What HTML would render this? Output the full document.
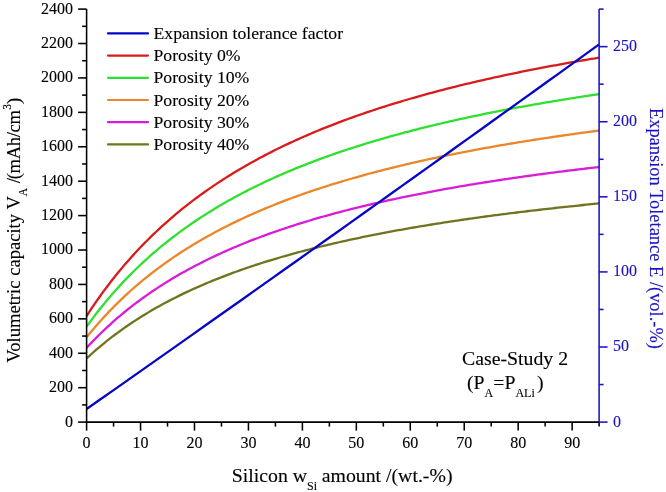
<!DOCTYPE html>
<html><head><meta charset="utf-8"><style>
html,body{margin:0;padding:0;background:#fff;}
svg{display:block;}
#w{width:666px;height:492px;overflow:hidden;will-change:transform;}
text{stroke:#000;stroke-width:0.12px;}
text.b{stroke:#1A12C8;}
</style></head><body>
<div id="w"><svg width="666" height="492" viewBox="0 0 666 492">
<rect width="666" height="492" fill="#fff"/>
<path d="M86.60,316.05 L89.18,312.08 L91.75,308.20 L94.33,304.39 L96.90,300.66 L99.48,297.01 L102.05,293.43 L104.63,289.91 L107.20,286.47 L109.78,283.09 L112.35,279.78 L114.93,276.53 L117.50,273.33 L120.08,270.20 L122.66,267.13 L125.23,264.11 L127.81,261.14 L130.38,258.23 L132.96,255.37 L135.53,252.56 L138.11,249.80 L140.68,247.08 L143.26,244.41 L145.83,241.79 L148.41,239.21 L150.98,236.67 L153.56,234.18 L156.14,231.72 L158.71,229.31 L161.29,226.93 L163.86,224.60 L166.44,222.30 L169.01,220.03 L171.59,217.80 L174.16,215.61 L176.74,213.45 L179.31,211.32 L181.89,209.22 L184.46,207.16 L187.04,205.12 L189.62,203.12 L192.19,201.15 L194.77,199.20 L197.34,197.28 L199.92,195.39 L202.49,193.53 L205.07,191.69 L207.64,189.88 L210.22,188.10 L212.79,186.33 L215.37,184.60 L217.94,182.88 L220.52,181.19 L223.09,179.53 L225.67,177.88 L228.25,176.26 L230.82,174.66 L233.40,173.08 L235.97,171.52 L238.55,169.98 L241.12,168.46 L243.70,166.96 L246.27,165.48 L248.85,164.02 L251.42,162.57 L254.00,161.14 L256.57,159.74 L259.15,158.34 L261.73,156.97 L264.30,155.61 L266.88,154.27 L269.45,152.95 L272.03,151.64 L274.60,150.34 L277.18,149.07 L279.75,147.80 L282.33,146.55 L284.90,145.32 L287.48,144.10 L290.05,142.90 L292.63,141.70 L295.21,140.52 L297.78,139.36 L300.36,138.21 L302.93,137.07 L305.51,135.94 L308.08,134.83 L310.66,133.73 L313.23,132.63 L315.81,131.56 L318.38,130.49 L320.96,129.44 L323.53,128.39 L326.11,127.36 L328.69,126.34 L331.26,125.33 L333.84,124.32 L336.41,123.33 L338.99,122.35 L341.56,121.38 L344.14,120.42 L346.71,119.47 L349.29,118.53 L351.86,117.60 L354.44,116.68 L357.01,115.77 L359.59,114.87 L362.17,113.97 L364.74,113.09 L367.32,112.21 L369.89,111.34 L372.47,110.48 L375.04,109.63 L377.62,108.78 L380.19,107.95 L382.77,107.12 L385.34,106.30 L387.92,105.49 L390.49,104.68 L393.07,103.89 L395.65,103.10 L398.22,102.32 L400.80,101.54 L403.37,100.77 L405.95,100.01 L408.52,99.26 L411.10,98.51 L413.67,97.77 L416.25,97.04 L418.82,96.31 L421.40,95.59 L423.97,94.87 L426.55,94.17 L429.13,93.46 L431.70,92.77 L434.28,92.08 L436.85,91.39 L439.43,90.72 L442.00,90.04 L444.58,89.38 L447.15,88.72 L449.73,88.06 L452.30,87.41 L454.88,86.77 L457.45,86.13 L460.03,85.49 L462.61,84.87 L465.18,84.24 L467.76,83.62 L470.33,83.01 L472.91,82.40 L475.48,81.80 L478.06,81.20 L480.63,80.61 L483.21,80.02 L485.78,79.44 L488.36,78.86 L490.93,78.28 L493.51,77.71 L496.08,77.15 L498.66,76.59 L501.24,76.03 L503.81,75.48 L506.39,74.93 L508.96,74.38 L511.54,73.84 L514.11,73.31 L516.69,72.78 L519.26,72.25 L521.84,71.73 L524.41,71.21 L526.99,70.69 L529.56,70.18 L532.14,69.67 L534.72,69.17 L537.29,68.67 L539.87,68.17 L542.44,67.68 L545.02,67.19 L547.59,66.70 L550.17,66.22 L552.74,65.74 L555.32,65.26 L557.89,64.79 L560.47,64.32 L563.04,63.86 L565.62,63.40 L568.20,62.94 L570.77,62.48 L573.35,62.03 L575.92,61.58 L578.50,61.13 L581.07,60.69 L583.65,60.25 L586.22,59.81 L588.80,59.38 L591.37,58.95 L593.95,58.52 L596.52,58.10 L599.10,57.67" fill="none" stroke="#D81C1C" stroke-width="2.3" stroke-linejoin="round"/>
<path d="M86.60,326.65 L89.18,323.08 L91.75,319.59 L94.33,316.16 L96.90,312.81 L99.48,309.52 L102.05,306.29 L104.63,303.13 L107.20,300.03 L109.78,296.99 L112.35,294.01 L114.93,291.08 L117.50,288.21 L120.08,285.39 L122.66,282.62 L125.23,279.91 L127.81,277.24 L130.38,274.62 L132.96,272.04 L135.53,269.51 L138.11,267.03 L140.68,264.58 L143.26,262.18 L145.83,259.82 L148.41,257.50 L150.98,255.22 L153.56,252.97 L156.14,250.76 L158.71,248.59 L161.29,246.45 L163.86,244.35 L166.44,242.28 L169.01,240.24 L171.59,238.23 L174.16,236.26 L176.74,234.31 L179.31,232.40 L181.89,230.51 L184.46,228.65 L187.04,226.82 L189.62,225.02 L192.19,223.24 L194.77,221.49 L197.34,219.76 L199.92,218.06 L202.49,216.39 L205.07,214.73 L207.64,213.10 L210.22,211.50 L212.79,209.91 L215.37,208.35 L217.94,206.81 L220.52,205.29 L223.09,203.78 L225.67,202.30 L228.25,200.84 L230.82,199.40 L233.40,197.98 L235.97,196.58 L238.55,195.19 L241.12,193.82 L243.70,192.47 L246.27,191.14 L248.85,189.82 L251.42,188.52 L254.00,187.24 L256.57,185.97 L259.15,184.72 L261.73,183.48 L264.30,182.26 L266.88,181.06 L269.45,179.86 L272.03,178.68 L274.60,177.52 L277.18,176.37 L279.75,175.23 L282.33,174.11 L284.90,173.00 L287.48,171.90 L290.05,170.82 L292.63,169.74 L295.21,168.68 L297.78,167.63 L300.36,166.60 L302.93,165.57 L305.51,164.56 L308.08,163.55 L310.66,162.56 L313.23,161.58 L315.81,160.61 L318.38,159.65 L320.96,158.70 L323.53,157.76 L326.11,156.83 L328.69,155.91 L331.26,155.00 L333.84,154.10 L336.41,153.21 L338.99,152.33 L341.56,151.46 L344.14,150.59 L346.71,149.74 L349.29,148.89 L351.86,148.05 L354.44,147.22 L357.01,146.40 L359.59,145.59 L362.17,144.78 L364.74,143.99 L367.32,143.20 L369.89,142.42 L372.47,141.64 L375.04,140.88 L377.62,140.12 L380.19,139.36 L382.77,138.62 L385.34,137.88 L387.92,137.15 L390.49,136.43 L393.07,135.71 L395.65,135.00 L398.22,134.29 L400.80,133.60 L403.37,132.91 L405.95,132.22 L408.52,131.54 L411.10,130.87 L413.67,130.20 L416.25,129.54 L418.82,128.89 L421.40,128.24 L423.97,127.60 L426.55,126.96 L429.13,126.33 L431.70,125.70 L434.28,125.08 L436.85,124.46 L439.43,123.85 L442.00,123.25 L444.58,122.65 L447.15,122.05 L449.73,121.46 L452.30,120.88 L454.88,120.30 L457.45,119.72 L460.03,119.15 L462.61,118.59 L465.18,118.03 L467.76,117.47 L470.33,116.92 L472.91,116.37 L475.48,115.83 L478.06,115.29 L480.63,114.76 L483.21,114.23 L485.78,113.70 L488.36,113.18 L490.93,112.66 L493.51,112.15 L496.08,111.64 L498.66,111.14 L501.24,110.64 L503.81,110.14 L506.39,109.65 L508.96,109.16 L511.54,108.67 L514.11,108.19 L516.69,107.71 L519.26,107.23 L521.84,106.76 L524.41,106.30 L526.99,105.83 L529.56,105.37 L532.14,104.91 L534.72,104.46 L537.29,104.01 L539.87,103.56 L542.44,103.12 L545.02,102.68 L547.59,102.24 L550.17,101.81 L552.74,101.38 L555.32,100.95 L557.89,100.52 L560.47,100.10 L563.04,99.68 L565.62,99.27 L568.20,98.85 L570.77,98.44 L573.35,98.04 L575.92,97.63 L578.50,97.23 L581.07,96.83 L583.65,96.44 L586.22,96.04 L588.80,95.65 L591.37,95.26 L593.95,94.88 L596.52,94.50 L599.10,94.12" fill="none" stroke="#30E030" stroke-width="2.3" stroke-linejoin="round"/>
<path d="M86.60,337.26 L89.18,334.08 L91.75,330.98 L94.33,327.93 L96.90,324.95 L99.48,322.03 L102.05,319.16 L104.63,316.35 L107.20,313.60 L109.78,310.89 L112.35,308.24 L114.93,305.64 L117.50,303.09 L120.08,300.58 L122.66,298.12 L125.23,295.71 L127.81,293.33 L130.38,291.00 L132.96,288.72 L135.53,286.47 L138.11,284.26 L140.68,282.08 L143.26,279.95 L145.83,277.85 L148.41,275.79 L150.98,273.76 L153.56,271.76 L156.14,269.80 L158.71,267.87 L161.29,265.97 L163.86,264.10 L166.44,262.26 L169.01,260.45 L171.59,258.66 L174.16,256.91 L176.74,255.18 L179.31,253.47 L181.89,251.80 L184.46,250.15 L187.04,248.52 L189.62,246.92 L192.19,245.34 L194.77,243.78 L197.34,242.25 L199.92,240.73 L202.49,239.24 L205.07,237.77 L207.64,236.32 L210.22,234.90 L212.79,233.49 L215.37,232.10 L217.94,230.73 L220.52,229.38 L223.09,228.04 L225.67,226.73 L228.25,225.43 L230.82,224.15 L233.40,222.88 L235.97,221.63 L238.55,220.40 L241.12,219.19 L243.70,217.99 L246.27,216.80 L248.85,215.63 L251.42,214.48 L254.00,213.34 L256.57,212.21 L259.15,211.10 L261.73,210.00 L264.30,208.91 L266.88,207.84 L269.45,206.78 L272.03,205.73 L274.60,204.70 L277.18,203.67 L279.75,202.66 L282.33,201.66 L284.90,200.68 L287.48,199.70 L290.05,198.74 L292.63,197.78 L295.21,196.84 L297.78,195.91 L300.36,194.99 L302.93,194.07 L305.51,193.17 L308.08,192.28 L310.66,191.40 L313.23,190.53 L315.81,189.67 L318.38,188.81 L320.96,187.97 L323.53,187.13 L326.11,186.31 L328.69,185.49 L331.26,184.68 L333.84,183.88 L336.41,183.09 L338.99,182.30 L341.56,181.53 L344.14,180.76 L346.71,180.00 L349.29,179.25 L351.86,178.50 L354.44,177.77 L357.01,177.04 L359.59,176.31 L362.17,175.60 L364.74,174.89 L367.32,174.19 L369.89,173.49 L372.47,172.80 L375.04,172.12 L377.62,171.45 L380.19,170.78 L382.77,170.12 L385.34,169.46 L387.92,168.81 L390.49,168.17 L393.07,167.53 L395.65,166.90 L398.22,166.27 L400.80,165.65 L403.37,165.04 L405.95,164.43 L408.52,163.83 L411.10,163.23 L413.67,162.64 L416.25,162.05 L418.82,161.47 L421.40,160.89 L423.97,160.32 L426.55,159.75 L429.13,159.19 L431.70,158.63 L434.28,158.08 L436.85,157.53 L439.43,156.99 L442.00,156.45 L444.58,155.92 L447.15,155.39 L449.73,154.87 L452.30,154.35 L454.88,153.83 L457.45,153.32 L460.03,152.82 L462.61,152.31 L465.18,151.81 L467.76,151.32 L470.33,150.83 L472.91,150.34 L475.48,149.86 L478.06,149.38 L480.63,148.91 L483.21,148.44 L485.78,147.97 L488.36,147.51 L490.93,147.05 L493.51,146.59 L496.08,146.14 L498.66,145.69 L501.24,145.24 L503.81,144.80 L506.39,144.36 L508.96,143.93 L511.54,143.50 L514.11,143.07 L516.69,142.64 L519.26,142.22 L521.84,141.80 L524.41,141.39 L526.99,140.97 L529.56,140.56 L532.14,140.16 L534.72,139.75 L537.29,139.35 L539.87,138.96 L542.44,138.56 L545.02,138.17 L547.59,137.78 L550.17,137.39 L552.74,137.01 L555.32,136.63 L557.89,136.25 L560.47,135.88 L563.04,135.51 L565.62,135.14 L568.20,134.77 L570.77,134.40 L573.35,134.04 L575.92,133.68 L578.50,133.33 L581.07,132.97 L583.65,132.62 L586.22,132.27 L588.80,131.92 L591.37,131.58 L593.95,131.24 L596.52,130.90 L599.10,130.56" fill="none" stroke="#EC862A" stroke-width="2.3" stroke-linejoin="round"/>
<path d="M86.60,347.86 L89.18,345.09 L91.75,342.37 L94.33,339.70 L96.90,337.09 L99.48,334.54 L102.05,332.03 L104.63,329.57 L107.20,327.16 L109.78,324.79 L112.35,322.47 L114.93,320.20 L117.50,317.96 L120.08,315.77 L122.66,313.62 L125.23,311.51 L127.81,309.43 L130.38,307.39 L132.96,305.39 L135.53,303.42 L138.11,301.49 L140.68,299.59 L143.26,297.72 L145.83,295.88 L148.41,294.08 L150.98,292.30 L153.56,290.55 L156.14,288.84 L158.71,287.15 L161.29,285.48 L163.86,283.85 L166.44,282.24 L169.01,280.65 L171.59,279.09 L174.16,277.56 L176.74,276.04 L179.31,274.55 L181.89,273.09 L184.46,271.64 L187.04,270.22 L189.62,268.81 L192.19,267.43 L194.77,266.07 L197.34,264.73 L199.92,263.40 L202.49,262.10 L205.07,260.81 L207.64,259.55 L210.22,258.30 L212.79,257.06 L215.37,255.85 L217.94,254.65 L220.52,253.47 L223.09,252.30 L225.67,251.15 L228.25,250.01 L230.82,248.89 L233.40,247.78 L235.97,246.69 L238.55,245.62 L241.12,244.55 L243.70,243.50 L246.27,242.46 L248.85,241.44 L251.42,240.43 L254.00,239.43 L256.57,238.45 L259.15,237.47 L261.73,236.51 L264.30,235.56 L266.88,234.62 L269.45,233.69 L272.03,232.78 L274.60,231.87 L277.18,230.98 L279.75,230.09 L282.33,229.22 L284.90,228.35 L287.48,227.50 L290.05,226.66 L292.63,225.82 L295.21,225.00 L297.78,224.18 L300.36,223.38 L302.93,222.58 L305.51,221.79 L308.08,221.01 L310.66,220.24 L313.23,219.47 L315.81,218.72 L318.38,217.97 L320.96,217.23 L323.53,216.50 L326.11,215.78 L328.69,215.07 L331.26,214.36 L333.84,213.66 L336.41,212.96 L338.99,212.28 L341.56,211.60 L344.14,210.93 L346.71,210.26 L349.29,209.60 L351.86,208.95 L354.44,208.31 L357.01,207.67 L359.59,207.04 L362.17,206.41 L364.74,205.79 L367.32,205.18 L369.89,204.57 L372.47,203.97 L375.04,203.37 L377.62,202.78 L380.19,202.19 L382.77,201.61 L385.34,201.04 L387.92,200.47 L390.49,199.91 L393.07,199.35 L395.65,198.80 L398.22,198.25 L400.80,197.71 L403.37,197.17 L405.95,196.64 L408.52,196.11 L411.10,195.59 L413.67,195.07 L416.25,194.56 L418.82,194.05 L421.40,193.54 L423.97,193.04 L426.55,192.55 L429.13,192.05 L431.70,191.57 L434.28,191.08 L436.85,190.61 L439.43,190.13 L442.00,189.66 L444.58,189.19 L447.15,188.73 L449.73,188.27 L452.30,187.82 L454.88,187.37 L457.45,186.92 L460.03,186.48 L462.61,186.04 L465.18,185.60 L467.76,185.17 L470.33,184.74 L472.91,184.31 L475.48,183.89 L478.06,183.47 L480.63,183.06 L483.21,182.64 L485.78,182.24 L488.36,181.83 L490.93,181.43 L493.51,181.03 L496.08,180.63 L498.66,180.24 L501.24,179.85 L503.81,179.46 L506.39,179.08 L508.96,178.70 L511.54,178.32 L514.11,177.95 L516.69,177.57 L519.26,177.20 L521.84,176.84 L524.41,176.47 L526.99,176.11 L529.56,175.76 L532.14,175.40 L534.72,175.05 L537.29,174.70 L539.87,174.35 L542.44,174.00 L545.02,173.66 L547.59,173.32 L550.17,172.98 L552.74,172.65 L555.32,172.31 L557.89,171.98 L560.47,171.66 L563.04,171.33 L565.62,171.01 L568.20,170.69 L570.77,170.37 L573.35,170.05 L575.92,169.74 L578.50,169.42 L581.07,169.11 L583.65,168.81 L586.22,168.50 L588.80,168.20 L591.37,167.89 L593.95,167.59 L596.52,167.30 L599.10,167.00" fill="none" stroke="#D81CD8" stroke-width="2.3" stroke-linejoin="round"/>
<path d="M86.60,358.47 L89.18,356.09 L91.75,353.76 L94.33,351.47 L96.90,349.24 L99.48,347.04 L102.05,344.90 L104.63,342.79 L107.20,340.72 L109.78,338.69 L112.35,336.71 L114.93,334.76 L117.50,332.84 L120.08,330.96 L122.66,329.12 L125.23,327.30 L127.81,325.53 L130.38,323.78 L132.96,322.06 L135.53,320.37 L138.11,318.72 L140.68,317.09 L143.26,315.49 L145.83,313.91 L148.41,312.37 L150.98,310.84 L153.56,309.35 L156.14,307.87 L158.71,306.43 L161.29,305.00 L163.86,303.60 L166.44,302.22 L169.01,300.86 L171.59,299.52 L174.16,298.20 L176.74,296.91 L179.31,295.63 L181.89,294.37 L184.46,293.13 L187.04,291.91 L189.62,290.71 L192.19,289.53 L194.77,288.36 L197.34,287.21 L199.92,286.08 L202.49,284.96 L205.07,283.86 L207.64,282.77 L210.22,281.70 L212.79,280.64 L215.37,279.60 L217.94,278.57 L220.52,277.56 L223.09,276.56 L225.67,275.57 L228.25,274.60 L230.82,273.64 L233.40,272.69 L235.97,271.75 L238.55,270.83 L241.12,269.92 L243.70,269.02 L246.27,268.13 L248.85,267.25 L251.42,266.38 L254.00,265.53 L256.57,264.68 L259.15,263.85 L261.73,263.02 L264.30,262.21 L266.88,261.40 L269.45,260.61 L272.03,259.82 L274.60,259.05 L277.18,258.28 L279.75,257.52 L282.33,256.77 L284.90,256.03 L287.48,255.30 L290.05,254.58 L292.63,253.86 L295.21,253.15 L297.78,252.46 L300.36,251.76 L302.93,251.08 L305.51,250.40 L308.08,249.74 L310.66,249.08 L313.23,248.42 L315.81,247.77 L318.38,247.13 L320.96,246.50 L323.53,245.87 L326.11,245.26 L328.69,244.64 L331.26,244.04 L333.84,243.43 L336.41,242.84 L338.99,242.25 L341.56,241.67 L344.14,241.09 L346.71,240.52 L349.29,239.96 L351.86,239.40 L354.44,238.85 L357.01,238.30 L359.59,237.76 L362.17,237.22 L364.74,236.69 L367.32,236.16 L369.89,235.64 L372.47,235.13 L375.04,234.62 L377.62,234.11 L380.19,233.61 L382.77,233.11 L385.34,232.62 L387.92,232.13 L390.49,231.65 L393.07,231.17 L395.65,230.70 L398.22,230.23 L400.80,229.76 L403.37,229.30 L405.95,228.85 L408.52,228.39 L411.10,227.95 L413.67,227.50 L416.25,227.06 L418.82,226.63 L421.40,226.19 L423.97,225.76 L426.55,225.34 L429.13,224.92 L431.70,224.50 L434.28,224.09 L436.85,223.68 L439.43,223.27 L442.00,222.87 L444.58,222.47 L447.15,222.07 L449.73,221.68 L452.30,221.29 L454.88,220.90 L457.45,220.52 L460.03,220.14 L462.61,219.76 L465.18,219.39 L467.76,219.01 L470.33,218.65 L472.91,218.28 L475.48,217.92 L478.06,217.56 L480.63,217.21 L483.21,216.85 L485.78,216.50 L488.36,216.15 L490.93,215.81 L493.51,215.47 L496.08,215.13 L498.66,214.79 L501.24,214.46 L503.81,214.13 L506.39,213.80 L508.96,213.47 L511.54,213.15 L514.11,212.83 L516.69,212.51 L519.26,212.19 L521.84,211.88 L524.41,211.56 L526.99,211.25 L529.56,210.95 L532.14,210.64 L534.72,210.34 L537.29,210.04 L539.87,209.74 L542.44,209.45 L545.02,209.15 L547.59,208.86 L550.17,208.57 L552.74,208.28 L555.32,208.00 L557.89,207.71 L560.47,207.43 L563.04,207.15 L565.62,206.88 L568.20,206.60 L570.77,206.33 L573.35,206.06 L575.92,205.79 L578.50,205.52 L581.07,205.25 L583.65,204.99 L586.22,204.73 L588.80,204.47 L591.37,204.21 L593.95,203.95 L596.52,203.70 L599.10,203.44" fill="none" stroke="#707420" stroke-width="2.3" stroke-linejoin="round"/>
<path d="M86.60,409.03 L99.74,399.81 L112.88,390.59 L126.02,381.35 L139.16,372.11 L152.31,362.87 L165.45,353.61 L178.59,344.35 L191.73,335.08 L204.87,325.81 L218.01,316.53 L231.15,307.24 L244.29,297.94 L257.43,288.64 L270.57,279.33 L283.72,270.02 L296.86,260.70 L310.00,251.37 L323.14,242.03 L336.28,232.69 L349.42,223.34 L362.56,213.98 L375.70,204.62 L388.84,195.25 L401.98,185.87 L415.13,176.49 L428.27,167.10 L441.41,157.70 L454.55,148.29 L467.69,138.88 L480.83,129.46 L493.97,120.04 L507.11,110.61 L520.25,101.17 L533.39,91.72 L546.54,82.27 L559.68,72.81 L572.82,63.35 L585.96,53.87 L599.10,44.39" fill="none" stroke="#0606C6" stroke-width="2.3"/>
<path d="M86.60,9.10 V422.10 H599.10" fill="none" stroke="#000" stroke-width="1.55"/>
<path d="M78.10,422.10 H86.60" stroke="#000" stroke-width="1.55"/>
<text x="73" y="426.50" font-family="Liberation Serif" font-size="16" text-anchor="end">0</text>
<path d="M82.10,404.89 H86.60" stroke="#000" stroke-width="1.55"/>
<path d="M78.10,387.68 H86.60" stroke="#000" stroke-width="1.55"/>
<text x="73" y="392.08" font-family="Liberation Serif" font-size="16" text-anchor="end">200</text>
<path d="M82.10,370.48 H86.60" stroke="#000" stroke-width="1.55"/>
<path d="M78.10,353.27 H86.60" stroke="#000" stroke-width="1.55"/>
<text x="73" y="357.67" font-family="Liberation Serif" font-size="16" text-anchor="end">400</text>
<path d="M82.10,336.06 H86.60" stroke="#000" stroke-width="1.55"/>
<path d="M78.10,318.85 H86.60" stroke="#000" stroke-width="1.55"/>
<text x="73" y="323.25" font-family="Liberation Serif" font-size="16" text-anchor="end">600</text>
<path d="M82.10,301.64 H86.60" stroke="#000" stroke-width="1.55"/>
<path d="M78.10,284.43 H86.60" stroke="#000" stroke-width="1.55"/>
<text x="73" y="288.83" font-family="Liberation Serif" font-size="16" text-anchor="end">800</text>
<path d="M82.10,267.23 H86.60" stroke="#000" stroke-width="1.55"/>
<path d="M78.10,250.02 H86.60" stroke="#000" stroke-width="1.55"/>
<text x="73" y="254.42" font-family="Liberation Serif" font-size="16" text-anchor="end">1000</text>
<path d="M82.10,232.81 H86.60" stroke="#000" stroke-width="1.55"/>
<path d="M78.10,215.60 H86.60" stroke="#000" stroke-width="1.55"/>
<text x="73" y="220.00" font-family="Liberation Serif" font-size="16" text-anchor="end">1200</text>
<path d="M82.10,198.39 H86.60" stroke="#000" stroke-width="1.55"/>
<path d="M78.10,181.18 H86.60" stroke="#000" stroke-width="1.55"/>
<text x="73" y="185.58" font-family="Liberation Serif" font-size="16" text-anchor="end">1400</text>
<path d="M82.10,163.98 H86.60" stroke="#000" stroke-width="1.55"/>
<path d="M78.10,146.77 H86.60" stroke="#000" stroke-width="1.55"/>
<text x="73" y="151.17" font-family="Liberation Serif" font-size="16" text-anchor="end">1600</text>
<path d="M82.10,129.56 H86.60" stroke="#000" stroke-width="1.55"/>
<path d="M78.10,112.35 H86.60" stroke="#000" stroke-width="1.55"/>
<text x="73" y="116.75" font-family="Liberation Serif" font-size="16" text-anchor="end">1800</text>
<path d="M82.10,95.14 H86.60" stroke="#000" stroke-width="1.55"/>
<path d="M78.10,77.93 H86.60" stroke="#000" stroke-width="1.55"/>
<text x="73" y="82.33" font-family="Liberation Serif" font-size="16" text-anchor="end">2000</text>
<path d="M82.10,60.73 H86.60" stroke="#000" stroke-width="1.55"/>
<path d="M78.10,43.52 H86.60" stroke="#000" stroke-width="1.55"/>
<text x="73" y="47.92" font-family="Liberation Serif" font-size="16" text-anchor="end">2200</text>
<path d="M82.10,26.31 H86.60" stroke="#000" stroke-width="1.55"/>
<path d="M78.10,9.10 H86.60" stroke="#000" stroke-width="1.55"/>
<text x="73" y="13.50" font-family="Liberation Serif" font-size="16" text-anchor="end">2400</text>
<path d="M86.60,422.10 V430.60" stroke="#000" stroke-width="1.55"/>
<text x="86.60" y="448" font-family="Liberation Serif" font-size="16" text-anchor="middle">0</text>
<path d="M113.57,422.10 V426.60" stroke="#000" stroke-width="1.55"/>
<path d="M140.55,422.10 V430.60" stroke="#000" stroke-width="1.55"/>
<text x="140.55" y="448" font-family="Liberation Serif" font-size="16" text-anchor="middle">10</text>
<path d="M167.52,422.10 V426.60" stroke="#000" stroke-width="1.55"/>
<path d="M194.49,422.10 V430.60" stroke="#000" stroke-width="1.55"/>
<text x="194.49" y="448" font-family="Liberation Serif" font-size="16" text-anchor="middle">20</text>
<path d="M221.47,422.10 V426.60" stroke="#000" stroke-width="1.55"/>
<path d="M248.44,422.10 V430.60" stroke="#000" stroke-width="1.55"/>
<text x="248.44" y="448" font-family="Liberation Serif" font-size="16" text-anchor="middle">30</text>
<path d="M275.42,422.10 V426.60" stroke="#000" stroke-width="1.55"/>
<path d="M302.39,422.10 V430.60" stroke="#000" stroke-width="1.55"/>
<text x="302.39" y="448" font-family="Liberation Serif" font-size="16" text-anchor="middle">40</text>
<path d="M329.36,422.10 V426.60" stroke="#000" stroke-width="1.55"/>
<path d="M356.34,422.10 V430.60" stroke="#000" stroke-width="1.55"/>
<text x="356.34" y="448" font-family="Liberation Serif" font-size="16" text-anchor="middle">50</text>
<path d="M383.31,422.10 V426.60" stroke="#000" stroke-width="1.55"/>
<path d="M410.28,422.10 V430.60" stroke="#000" stroke-width="1.55"/>
<text x="410.28" y="448" font-family="Liberation Serif" font-size="16" text-anchor="middle">60</text>
<path d="M437.26,422.10 V426.60" stroke="#000" stroke-width="1.55"/>
<path d="M464.23,422.10 V430.60" stroke="#000" stroke-width="1.55"/>
<text x="464.23" y="448" font-family="Liberation Serif" font-size="16" text-anchor="middle">70</text>
<path d="M491.21,422.10 V426.60" stroke="#000" stroke-width="1.55"/>
<path d="M518.18,422.10 V430.60" stroke="#000" stroke-width="1.55"/>
<text x="518.18" y="448" font-family="Liberation Serif" font-size="16" text-anchor="middle">80</text>
<path d="M545.15,422.10 V426.60" stroke="#000" stroke-width="1.55"/>
<path d="M572.13,422.10 V430.60" stroke="#000" stroke-width="1.55"/>
<text x="572.13" y="448" font-family="Liberation Serif" font-size="16" text-anchor="middle">90</text>
<path d="M599.10,422.10 V426.60" stroke="#000" stroke-width="1.55"/>
<path d="M599.10,9.10 V422.10" fill="none" stroke="#1A12C8" stroke-width="1.55"/>
<path d="M599.10,422.10 H607.60" stroke="#1A12C8" stroke-width="1.55"/>
<text x="613" y="426.50" font-family="Liberation Serif" font-size="16" fill="#1A12C8" class="b">0</text>
<path d="M599.10,384.55 H603.60" stroke="#1A12C8" stroke-width="1.55"/>
<path d="M599.10,347.01 H607.60" stroke="#1A12C8" stroke-width="1.55"/>
<text x="613" y="351.41" font-family="Liberation Serif" font-size="16" fill="#1A12C8" class="b">50</text>
<path d="M599.10,309.46 H603.60" stroke="#1A12C8" stroke-width="1.55"/>
<path d="M599.10,271.92 H607.60" stroke="#1A12C8" stroke-width="1.55"/>
<text x="613" y="276.32" font-family="Liberation Serif" font-size="16" fill="#1A12C8" class="b">100</text>
<path d="M599.10,234.37 H603.60" stroke="#1A12C8" stroke-width="1.55"/>
<path d="M599.10,196.83 H607.60" stroke="#1A12C8" stroke-width="1.55"/>
<text x="613" y="201.23" font-family="Liberation Serif" font-size="16" fill="#1A12C8" class="b">150</text>
<path d="M599.10,159.28 H603.60" stroke="#1A12C8" stroke-width="1.55"/>
<path d="M599.10,121.74 H607.60" stroke="#1A12C8" stroke-width="1.55"/>
<text x="613" y="126.14" font-family="Liberation Serif" font-size="16" fill="#1A12C8" class="b">200</text>
<path d="M599.10,84.19 H603.60" stroke="#1A12C8" stroke-width="1.55"/>
<path d="M599.10,46.65 H607.60" stroke="#1A12C8" stroke-width="1.55"/>
<text x="613" y="51.05" font-family="Liberation Serif" font-size="16" fill="#1A12C8" class="b">250</text>
<path d="M599.10,9.10 H603.60" stroke="#1A12C8" stroke-width="1.55"/>
<path d="M108,33.40 H148" stroke="#0606C6" stroke-width="2.2" stroke-linecap="round"/>
<text x="153.5" y="38.90" font-family="Liberation Serif" font-size="17.7">Expansion tolerance factor</text>
<path d="M108,55.60 H148" stroke="#D81C1C" stroke-width="2.2" stroke-linecap="round"/>
<text x="153.5" y="61.10" font-family="Liberation Serif" font-size="17.7">Porosity 0%</text>
<path d="M108,77.80 H148" stroke="#30E030" stroke-width="2.2" stroke-linecap="round"/>
<text x="153.5" y="83.30" font-family="Liberation Serif" font-size="17.7">Porosity 10%</text>
<path d="M108,100.00 H148" stroke="#EC862A" stroke-width="2.2" stroke-linecap="round"/>
<text x="153.5" y="105.50" font-family="Liberation Serif" font-size="17.7">Porosity 20%</text>
<path d="M108,122.20 H148" stroke="#D81CD8" stroke-width="2.2" stroke-linecap="round"/>
<text x="153.5" y="127.70" font-family="Liberation Serif" font-size="17.7">Porosity 30%</text>
<path d="M108,144.40 H148" stroke="#707420" stroke-width="2.2" stroke-linecap="round"/>
<text x="153.5" y="149.90" font-family="Liberation Serif" font-size="17.7">Porosity 40%</text>
<text x="231.8" y="481.8" font-family="Liberation Serif" font-size="19.8">Silicon w<tspan font-size="12" dy="7.9">Si</tspan><tspan dy="-7.9" dx="-0.3"> amount /(wt.-%)</tspan></text>
<text transform="translate(20.2,362.8) rotate(-90)" font-family="Liberation Serif" font-size="18.6">Volumetric capacity V<tspan font-size="11.5" dy="7">A</tspan><tspan dy="-7"> /</tspan><tspan dx="-1.2" letter-spacing="-0.35">(mAh/cm</tspan><tspan font-size="11.5" dy="-8.8" dx="0.8">3</tspan><tspan dy="8.8">)</tspan></text>
<text transform="translate(650.2,107.9) rotate(90)" font-family="Liberation Serif" font-size="18.45" fill="#1A12C8" class="b">Expansion Toletance E /(vol.-%)</text>
<text x="462" y="365.2" font-family="Liberation Serif" font-size="19.8">Case-Study 2</text>
<text x="467" y="389" font-family="Liberation Serif" font-size="19.8">(P<tspan font-size="12" dy="8">A</tspan><tspan dy="-8">=P</tspan><tspan font-size="12" dy="8">ALi</tspan><tspan dy="-8" dx="2.3">)</tspan></text>
</svg></div></body></html>
